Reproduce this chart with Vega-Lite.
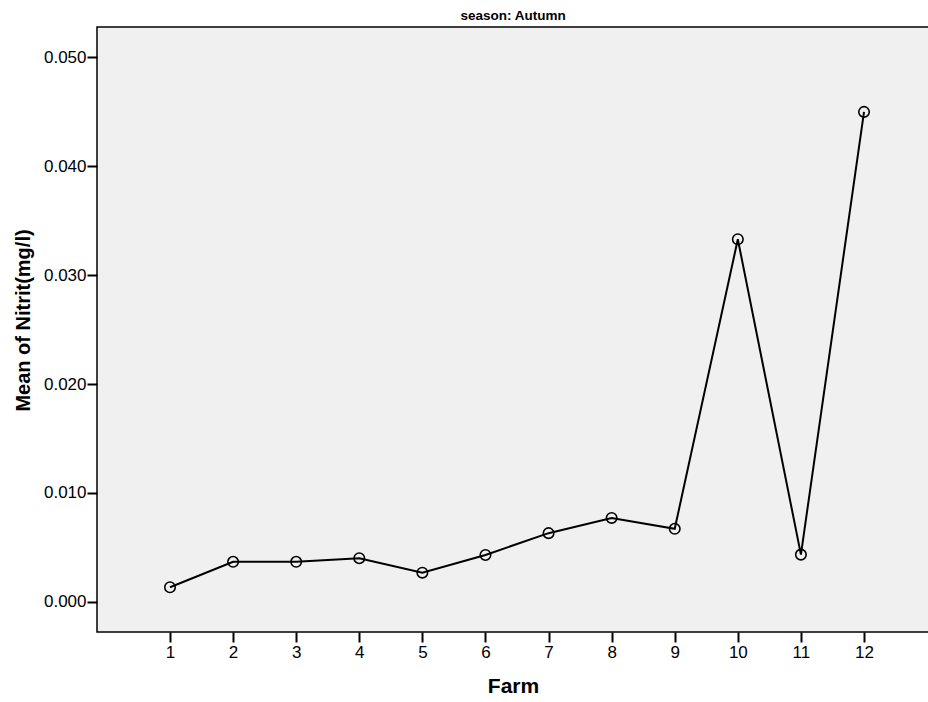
{
  "$schema": "https://vega.github.io/schema/vega-lite/v6.json",
  "autosize": {"type": "none"},
  "width": 832,
  "height": 605,
  "padding": {"left": 97, "top": 27, "right": 0, "bottom": 70},
  "background": "white",
  "title": {"text": "season: Autumn", "fontSize": 13.5, "font": "Liberation Sans", "fontWeight": "bold", "color": "black", "anchor": "middle", "offset": 5, "frame": "group"},
  "config": {
    "view": {"fill": "#f0f0f0", "stroke": "black", "strokeWidth": 1.5},
    "axis": {"labelFont": "Liberation Sans", "titleFont": "Liberation Sans", "labelColor": "black", "titleColor": "black", "tickColor": "black", "domainColor": "black", "grid": false, "tickWidth": 2, "tickSize": 10, "domain": false}
  },
  "data": {"values": [
    {"Farm": 1, "Nitrit": 0.00133},
    {"Farm": 2, "Nitrit": 0.00367},
    {"Farm": 3, "Nitrit": 0.00367},
    {"Farm": 4, "Nitrit": 0.0040},
    {"Farm": 5, "Nitrit": 0.00267},
    {"Farm": 6, "Nitrit": 0.0043},
    {"Farm": 7, "Nitrit": 0.0063},
    {"Farm": 8, "Nitrit": 0.0077},
    {"Farm": 9, "Nitrit": 0.0067},
    {"Farm": 10, "Nitrit": 0.0333},
    {"Farm": 11, "Nitrit": 0.00433},
    {"Farm": 12, "Nitrit": 0.0450}
  ]},
  "encoding": {
    "x": {"field": "Farm", "type": "quantitative",
      "scale": {"domain": [-0.157, 13.03], "nice": false, "zero": false},
      "axis": {"values": [1,2,3,4,5,6,7,8,9,10,11,12], "title": "Farm", "titleFontSize": 21, "titleFontWeight": "bold", "titlePadding": 15, "labelFontSize": 17, "labelPadding": 2, "labelFlush": false}},
    "y": {"field": "Nitrit", "type": "quantitative",
      "scale": {"domain": [-0.00278, 0.0528], "nice": false, "zero": false},
      "axis": {"values": [0, 0.01, 0.02, 0.03, 0.04, 0.05], "format": ".3f", "title": "Mean of Nitrit(mg/l)", "titleFontSize": 20, "titleFontWeight": "bold", "titlePadding": 10, "titleY": 293, "labelFontSize": 17, "labelPadding": 1}}
  },
  "layer": [
    {"mark": {"type": "line", "color": "black", "strokeWidth": 2}},
    {"mark": {"type": "point", "shape": "circle", "size": 110, "stroke": "black", "strokeWidth": 1.6, "filled": false, "opacity": 1}}
  ]
}
